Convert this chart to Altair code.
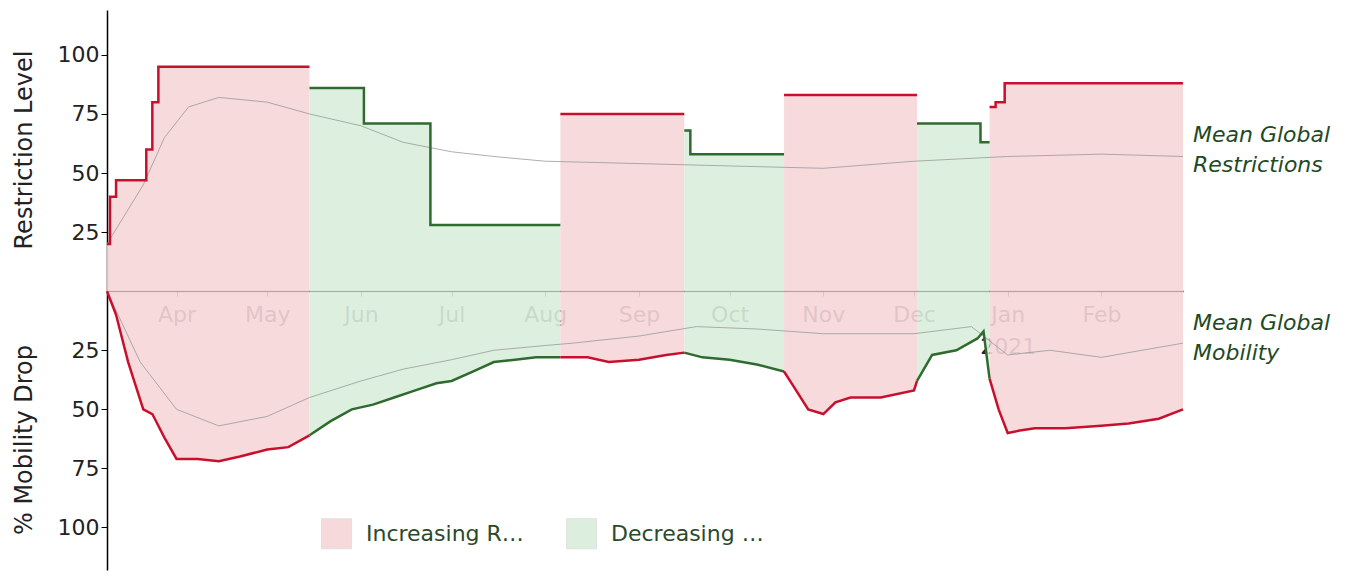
import altair as alt
import pandas as pd
import numpy as np

# Restriction level steps (date where level starts)
restr_dates = ["2020-03-09","2020-03-10","2020-03-12","2020-03-22","2020-03-24","2020-03-26","2020-05-15","2020-06-02","2020-06-24","2020-08-06","2020-09-16","2020-09-18","2020-10-19","2020-12-02","2020-12-23","2020-12-26","2020-12-28","2020-12-31","2021-02-28"]
restr_vals  = [20,40,47,60,80,95,86,71,28,75,68,58,83,71,63,78,80,88,88]

mob_dates = ["2020-03-09","2020-03-12","2020-03-16","2020-03-21","2020-03-24","2020-03-28","2020-04-01","2020-04-08","2020-04-15","2020-04-22","2020-05-01","2020-05-08","2020-05-15","2020-05-22","2020-05-29","2020-06-05","2020-06-12","2020-06-19","2020-06-26","2020-07-01","2020-07-08","2020-07-15","2020-07-22","2020-07-29","2020-08-06","2020-08-15","2020-08-22","2020-09-01","2020-09-10","2020-09-16","2020-09-22","2020-10-01","2020-10-10","2020-10-19","2020-10-22","2020-10-27","2020-11-01","2020-11-05","2020-11-10","2020-11-20","2020-12-01","2020-12-02","2020-12-07","2020-12-15","2020-12-22","2020-12-24","2020-12-26","2020-12-29","2021-01-01","2021-01-05","2021-01-10","2021-01-20","2021-02-01","2021-02-10","2021-02-20","2021-02-28"]
mob_vals = [0,10,30,50,52,62,71,71,72,70,67,66,61,55,50,48,45,42,39,38,34,30,29,28,28,28,30,29,27,26,28,29,31,34,40,50,52,47,45,45,42,38,27,25,20,17,37,50,60,59,58,58,57,56,54,50]

mean_r_dates = ["2020-03-09","2020-03-21","2020-03-28","2020-04-05","2020-04-15","2020-05-01","2020-05-15","2020-06-01","2020-06-15","2020-07-01","2020-07-15","2020-08-01","2020-09-01","2020-10-01","2020-11-01","2020-12-01","2021-01-01","2021-02-01","2021-02-28"]
mean_r_vals = [20,45,65,78,82,80,75,70,63,59,57,55,54,53,52,55,57,58,57]

mean_m_dates = ["2020-03-09","2020-03-20","2020-04-01","2020-04-15","2020-05-01","2020-05-15","2020-06-01","2020-06-15","2020-07-01","2020-07-15","2020-08-01","2020-08-10","2020-09-01","2020-09-20","2020-10-10","2020-11-01","2020-12-01","2020-12-20","2021-01-01","2021-01-15","2021-02-01","2021-02-28"]
mean_m_vals = [0,30,50,57,53,45,38,33,29,25,23,22,19,15,16,18,18,15,27,25,28,22]

periods = [("2020-03-09","2020-05-15","Increasing Restrictions"),
           ("2020-05-15","2020-08-06","Decreasing Restrictions"),
           ("2020-08-06","2020-09-16","Increasing Restrictions"),
           ("2020-09-16","2020-10-19","Decreasing Restrictions"),
           ("2020-10-19","2020-12-02","Increasing Restrictions"),
           ("2020-12-02","2020-12-26","Decreasing Restrictions"),
           ("2020-12-26","2021-02-28","Increasing Restrictions")]

def segment(dates, vals, step=False, sign=1):
    # boundaries are all present in the date lists, so only split rows
    d = pd.DataFrame({"date": pd.to_datetime(dates), "v": [sign * v for v in vals]})
    rows = []
    last = pd.Timestamp(periods[-1][1])
    for i, (s, e, k) in enumerate(periods):
        s, e = pd.Timestamp(s), pd.Timestamp(e)
        sub = d[(d.date >= s) & (d.date <= e)].copy()
        if step and e != last:
            sub.loc[sub.date == e, "v"] = d[d.date < e].v.iloc[-1]
        sub["kind"] = k
        sub["seg"] = i
        rows.append(sub)
    out = pd.concat(rows)
    out["date"] = out.date.dt.strftime("%Y-%m-%d")
    return out

rdf = segment(restr_dates, restr_vals, step=True)
mdf = segment(mob_dates, mob_vals, sign=-1)
mr = pd.DataFrame({"date": mean_r_dates, "v": mean_r_vals})
mm = pd.DataFrame({"date": mean_m_dates, "v": [-v for v in mean_m_vals]})

kinds = ["Increasing Restrictions", "Decreasing Restrictions"]
xs = alt.X("date:T", scale=alt.Scale(type="utc", domain=[alt.DateTime(year=2020, month=3, date=9, utc=True), alt.DateTime(year=2021, month=2, date=28, utc=True)]),
           axis=alt.Axis(title=None, offset=-279, grid=False, domainColor="black", tickColor="black", domainWidth=1.5,
                         values=[alt.DateTime(year=2020 if m > 3 else 2021, month=m, date=1, utc=True) for m in [4,5,6,7,8,9,10,11,12,1,2]],
                         labelExpr="utcFormat(datum.value,'%b')=='Jan' ? ['Jan','2021'] : utcFormat(datum.value,'%b')",
                         labelFontSize=22, labelColor="#222", labelPadding=8, tickSize=5, labelLineHeight=32))
ys = alt.Y("v:Q", scale=alt.Scale(domain=[-118, 119], nice=False, zero=False),
           axis=alt.Axis(title=None, grid=False, values=[-100,-75,-50,-25,25,50,75,100], labelExpr="abs(datum.value)",
                         labelFontSize=22, labelColor="#222", domainColor="black", tickColor="black", tickSize=6, domainWidth=1.5))

fill = alt.Color("kind:N", scale=alt.Scale(domain=kinds, range=["#f6d6d8", "#d9eedb"]),
                 legend=alt.Legend(title=None, orient="none", legendX=214, legendY=508, direction="horizontal",
                                   symbolType="square", symbolSize=900, symbolStrokeWidth=1, symbolStrokeColor="#ddd",
                                   labelFontSize=22, labelColor="#2a4a2a", columnPadding=40, labelOffset=14))
stroke = alt.Stroke("kind:N", scale=alt.Scale(domain=kinds, range=["#c8102e", "#2f6b2f"]), legend=None)

a1 = alt.Chart(rdf).mark_area(interpolate="step-after", opacity=0.9).encode(x=xs, y=ys, y2=alt.datum(0), color=fill, detail="seg:N")
a2 = alt.Chart(mdf).mark_area(opacity=0.9).encode(x=xs, y=ys, y2=alt.datum(0), color=fill, detail="seg:N")
l1 = alt.Chart(rdf).mark_line(interpolate="step-after", strokeWidth=2.5).encode(x=xs, y=ys, stroke=stroke, detail="seg:N")
l2 = alt.Chart(mdf).mark_line(strokeWidth=2.5).encode(x=xs, y=ys, stroke=stroke, detail="seg:N")
g1 = alt.Chart(mr).mark_line(color="#999", strokeWidth=0.8).encode(x=xs, y=ys)
g2 = alt.Chart(mm).mark_line(color="#999", strokeWidth=0.8).encode(x=xs, y=ys)

titles = alt.Chart(pd.DataFrame({"t": ["Restriction Level"]})).mark_text(angle=270, fontSize=24, color="#222").encode(
    text="t:N", x=alt.value(-82), y=alt.value(140))
titles2 = alt.Chart(pd.DataFrame({"t": ["% Mobility Drop"]})).mark_text(angle=270, fontSize=24, color="#222").encode(
    text="t:N", x=alt.value(-82), y=alt.value(430))
ann = alt.Chart(pd.DataFrame({"t": [["Mean Global", "Restrictions"]]})).mark_text(align="left", fontSize=22, fontStyle="italic", color="#1f4a1f", lineHeight=30).encode(
    text="t", x=alt.value(1086), y=alt.value(125))
ann2 = alt.Chart(pd.DataFrame({"t": [["Mean Global", "Mobility"]]})).mark_text(align="left", fontSize=22, fontStyle="italic", color="#1f4a1f", lineHeight=30).encode(
    text="t", x=alt.value(1086), y=alt.value(313))

chart = alt.layer(a1, a2, g1, g2, l1, l2, titles, titles2, ann, ann2).resolve_scale(stroke="independent").properties(
    width=1076, height=560, padding={"left": 99, "top": 2, "right": 175, "bottom": 2},
    autosize=alt.AutoSizeParams(type="none")
).configure_view(stroke=None).configure_axis(labelFont="DejaVu Sans").configure_text(font="DejaVu Sans").configure_legend(labelFont="DejaVu Sans")

chart.save("out.html", embed_options={"renderer": "svg", "actions": False})
